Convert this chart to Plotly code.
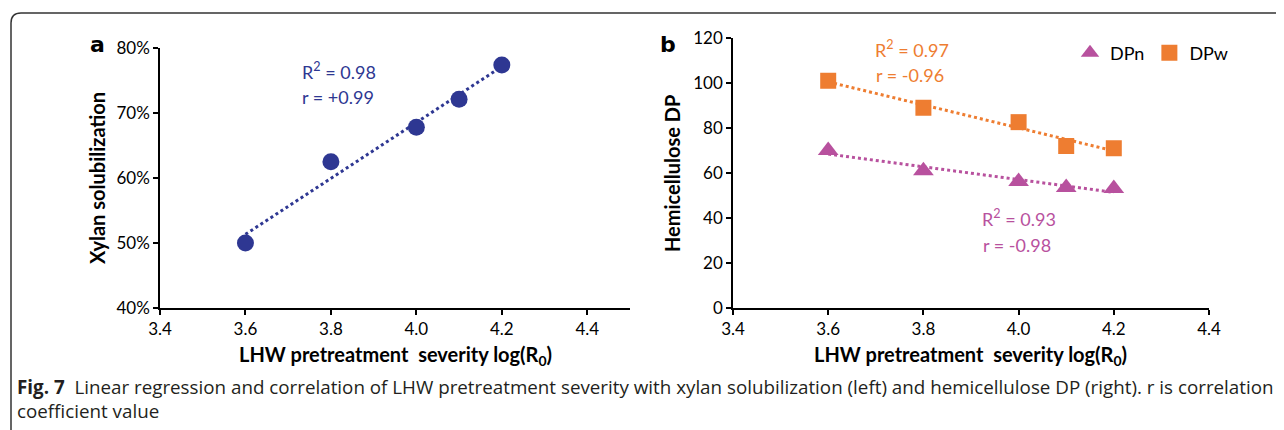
import numpy as np
import plotly.graph_objects as go

# ---- data ----
severity = [3.6, 3.8, 4.0, 4.1, 4.2]
xylan_sol = [50.0, 62.5, 67.8, 72.1, 77.4]   # %
dpn = [70.0, 61.0, 56.2, 53.6, 53.1]
dpw = [101.0, 89.0, 82.6, 72.0, 71.0]

x_ticks = [3.4, 3.6, 3.8, 4.0, 4.2, 4.4]
x_ticklabels = ["3.4", "3.6", "3.8", "4.0", "4.2", "4.4"]
ya_ticks = [40, 50, 60, 70, 80]
ya_ticklabels = ["40%", "50%", "60%", "70%", "80%"]
yb_ticks = [0, 20, 40, 60, 80, 100, 120]

BLUE = "#2E3792"
ORANGE = "#EE7D31"
MAGENTA = "#B8519E"
FONT = "Lato"
OFF = 8                      # page body margin
W, H = 1284 - OFF, 430 - OFF

def px(x):
    return (x - OFF) / W

def py(y):
    return 1 - (y - OFF) / H

def fit(x, y):
    k, b = np.polyfit(x, y, 1)
    xs = np.array([min(x), max(x)])
    return xs, k * xs + b

fig = go.Figure()

# panel a
tx, ty = fit(severity, xylan_sol)
fig.add_trace(go.Scatter(x=tx, y=ty, mode="lines", line=dict(color=BLUE, width=3, dash="dot"),
                         showlegend=False, xaxis="x", yaxis="y", hoverinfo="skip"))
fig.add_trace(go.Scatter(x=severity, y=xylan_sol, mode="markers", marker=dict(color=BLUE, size=17, symbol="circle"),
                         showlegend=False, xaxis="x", yaxis="y"))

# panel b
tx, ty = fit(severity, dpw)
fig.add_trace(go.Scatter(x=tx, y=ty, mode="lines", line=dict(color=ORANGE, width=3, dash="dot"),
                         showlegend=False, xaxis="x2", yaxis="y2", hoverinfo="skip"))
tx, ty = fit(severity, dpn)
fig.add_trace(go.Scatter(x=tx, y=ty, mode="lines", line=dict(color=MAGENTA, width=3, dash="dot"),
                         showlegend=False, xaxis="x2", yaxis="y2", hoverinfo="skip"))
fig.add_trace(go.Scatter(x=severity, y=dpn, mode="markers", name="DPn",
                         marker=dict(color=MAGENTA, size=18, symbol="triangle-up"),
                         xaxis="x2", yaxis="y2"))
fig.add_trace(go.Scatter(x=severity, y=dpw, mode="markers", name="DPw",
                         marker=dict(color=ORANGE, size=16, symbol="square"),
                         xaxis="x2", yaxis="y2"))

axis_common = dict(showline=True, linecolor="black", linewidth=1.5, ticks="outside", ticklen=5,
                   tickcolor="black", tickwidth=1.5, showgrid=False, zeroline=False, automargin=False,
                   tickfont=dict(family=FONT, size=17, color="black"))

fig.update_layout(
    width=W, height=H, margin=dict(l=0, r=0, t=0, b=0),
    paper_bgcolor="white", plot_bgcolor="white",
    font=dict(family=FONT, color="black"),
    xaxis=dict(domain=[px(160), px(630)], range=[3.4, 4.5], tickvals=x_ticks, ticktext=x_ticklabels,
               anchor="y", **axis_common),
    yaxis=dict(domain=[py(308), py(48)], range=[40, 80], tickvals=ya_ticks, ticktext=ya_ticklabels,
               anchor="x", **axis_common),
    xaxis2=dict(domain=[px(733), px(1209)], range=[3.4, 4.4], tickvals=x_ticks, ticktext=x_ticklabels,
                anchor="y2", **axis_common),
    yaxis2=dict(domain=[py(308), py(38)], range=[0, 120], tickvals=yb_ticks,
                anchor="x2", **axis_common),
    legend=dict(orientation="h", x=px(1070), y=py(53), xanchor="left", yanchor="middle",
                font=dict(family=FONT, size=18, color="black"), itemwidth=30, bgcolor="rgba(0,0,0,0)",
                tracegroupgap=0),
    showlegend=True,
)

xtitle = "<b>LHW pretreatment&nbsp; severity log(R<sub>0</sub>)</b>"
ann = []
def add(text, x, y, size, color="black", family=FONT, xanchor="center", yanchor="middle", angle=0):
    ann.append(dict(text=text, x=px(x), y=py(y), xref="paper", yref="paper", showarrow=False,
                    xanchor=xanchor, yanchor=yanchor, textangle=angle, align="left",
                    font=dict(family=family, size=size, color=color)))

add("<b>a</b>", 98, 45, 22, family="DejaVu Sans")
add("<b>b</b>", 668, 44, 22, family="DejaVu Sans")
add(xtitle, 396, 355, 20)
add(xtitle, 970, 355, 20)
add("<b>Xylan solubilization</b>", 97, 178, 20, angle=-90)
add("<b>Hemicellulose DP</b>", 672, 174, 20, angle=-90)
add("R<sup>2</sup> = 0.98", 300, 71, 18, BLUE, xanchor="left")
add("r = +0.99", 300, 97, 18, BLUE, xanchor="left")
add("R<sup>2</sup> = 0.97", 873, 49, 18, ORANGE, xanchor="left")
add("r = -0.96", 874, 75, 18, ORANGE, xanchor="left")
add("R<sup>2</sup> = 0.93", 980, 218, 18, MAGENTA, xanchor="left")
add("r = -0.98", 981, 245, 18, MAGENTA, xanchor="left")
add("<b>Fig. 7</b>&nbsp; Linear regression and correlation of LHW pretreatment severity with xylan solubilization "
    "(left) and hemicellulose DP (right). r is correlation", 15, 387, 18.8, "#231F20", family="Open Sans",
    xanchor="left")
add("coefficient value", 15, 411, 18.8, "#231F20", family="Open Sans", xanchor="left")
fig.update_layout(annotations=ann)

# frame
r = 10
path = (f"M {px(11)},0 L {px(11)},{py(13 + r)} Q {px(11)},{py(13)} {px(11 + r)},{py(13)} L 1,{py(13)}")
fig.add_shape(type="path", path=path, xref="paper", yref="paper", line=dict(color="#333333", width=1.5))

fig.write_html("out.html")
